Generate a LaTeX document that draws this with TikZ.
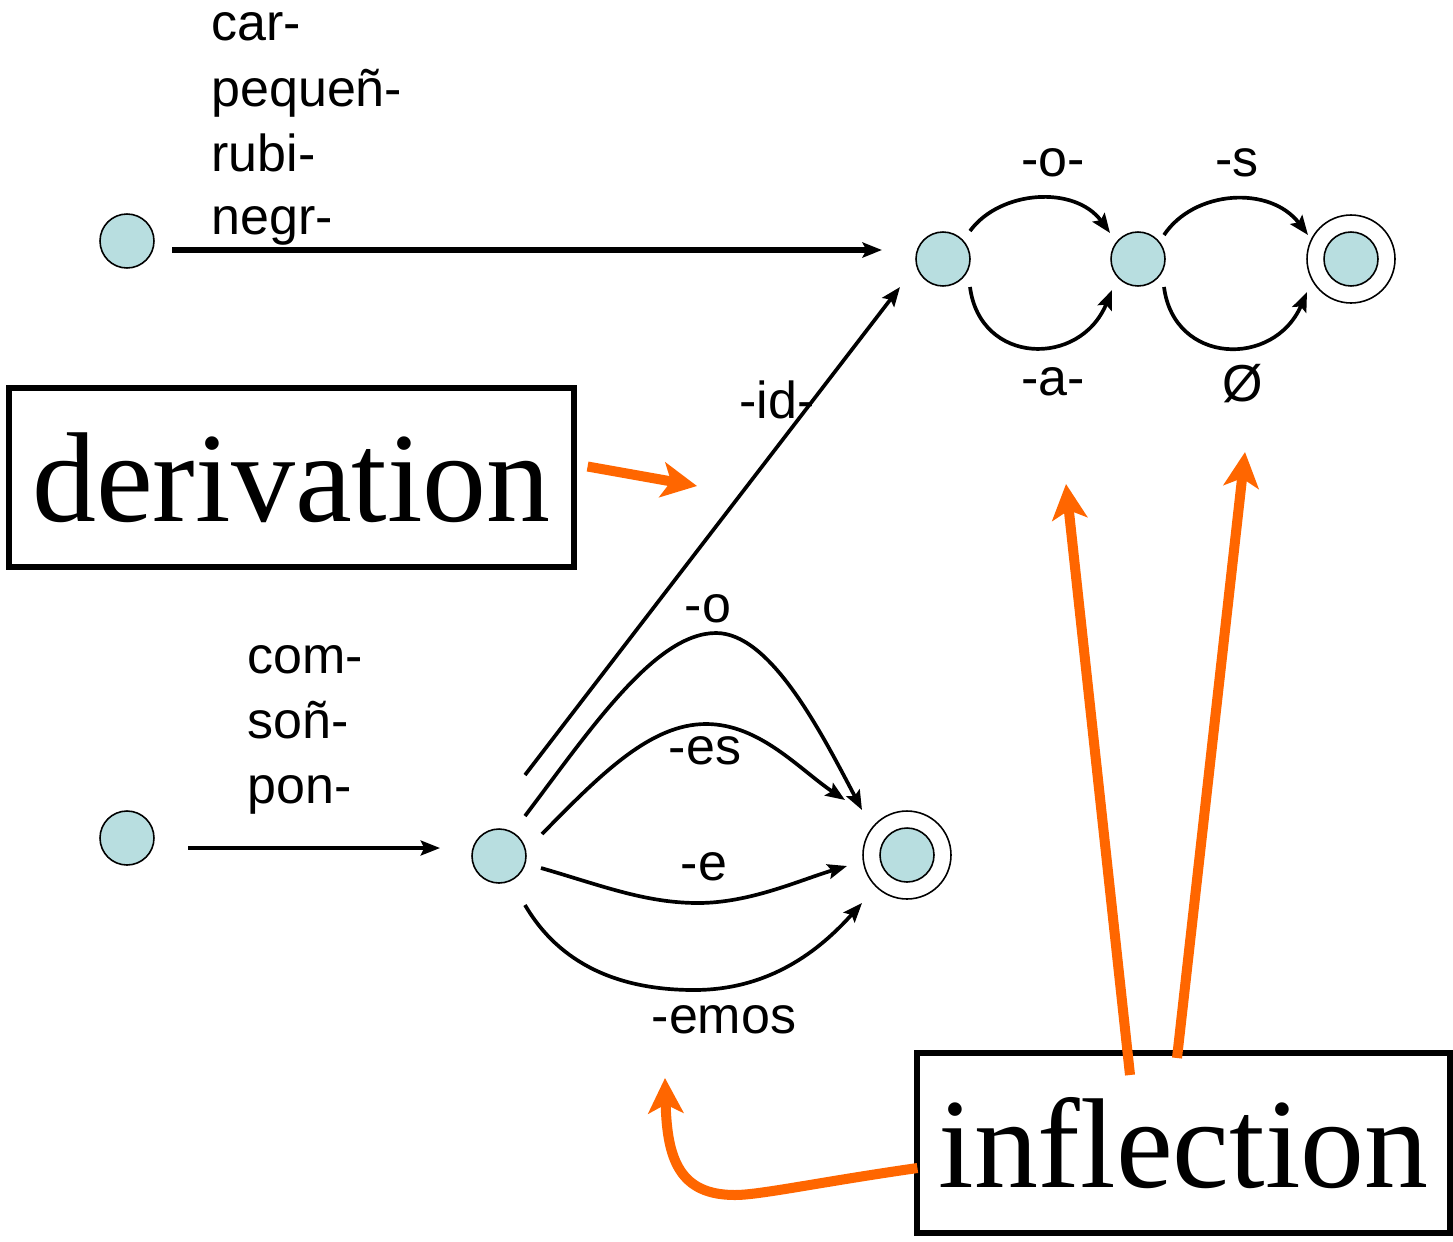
\documentclass[tikz,border=0pt]{standalone}
\usepackage{fontspec}
\setmainfont{Liberation Serif}
\newfontfamily\labelfont{Liberation Sans}
\usetikzlibrary{arrows.meta,calc}
\definecolor{statefill}{RGB}{184,222,224}
\definecolor{hlorange}{RGB}{255,102,0}

\begin{document}
\begin{tikzpicture}[x=0.02cm,y=-0.02cm,
  state/.style={circle,draw=black,line width=0.9pt,fill=statefill,minimum size=1.08cm,inner sep=0},
  ring/.style={circle,draw=black,line width=0.9pt,minimum size=1.76cm,inner sep=0},
  lbl/.style={font=\labelfont\fontsize{29.6}{35}\selectfont,inner sep=0,anchor=base},
  stem/.style={lbl,anchor=base west},
  trans/.style={draw=black,line width=2.1pt,-{Stealth[length=11pt,width=8.5pt,inset=2pt]}},
  note/.style={draw=black,line width=3pt,inner sep=0,font=\fontsize{72.8}{80}\selectfont},
  callout/.style={draw=hlorange,line width=5.7pt,-{Stealth[length=20pt,width=20pt,inset=5pt]}}
]
\useasboundingbox[fill=white] (0,0) rectangle (1453,1241);

% ---- adjective automaton ----
\node[state] (q0) at (127,241) {};
\node[state] (A) at (943,259) {};
\node[state] (B) at (1138,259) {};
\node[ring]  (Cring) at (1351,259) {};
\node[state] (C) at (1351,259) {};

\node[stem] (r1) at (211,40)  {car-};
\node[stem] (r2) at (211,106) {pequeñ-};
\node[stem] (r3) at (211,171) {rubi-};
\node[stem] (r4) at (211,234) {negr-};

\draw[trans,line width=3pt] ($(q0)+(45,9)$) -- ($(A)+(-61,-9)$);

\draw[trans] ($(A)+(27,-28)$) .. controls (1000,190) and (1075,185) .. ($(B)+(-28,-26)$);
\draw[trans] ($(A)+(27,28)$) .. controls (980,365) and (1080,368) .. ($(B)+(-26,31)$);
\draw[trans] ($(B)+(26,-24)$) .. controls (1194,190) and (1270,185) .. ($(Cring)+(-43,-24)$);
\draw[trans] ($(B)+(26,28)$) .. controls (1174,365) and (1274,368) .. ($(Cring)+(-44,33)$);

\node[lbl] (lo)  at (1053,176) {-o-};
\node[lbl] (la)  at (1053,395) {-a-};
\node[lbl] (ls)  at (1237,176) {-s};
\node[lbl] (lz)  at (1243,401) {Ø};

% ---- verb automaton ----
\node[state] (D) at (127,838) {};
\node[state] (E) at (499,856) {};
\node[ring]  (Fring) at (907,855) {};
\node[state] (F) at (907,855) {};

\node[stem] (v1) at (247,673) {com-};
\node[stem] (v2) at (247,738) {soñ-};
\node[stem] (v3) at (247,803) {pon-};

\draw[trans] ($(D)+(61,10)$) -- ($(E)+(-59,-8)$);

\draw[trans] ($(E)+(26,-81)$) -- ($(A)+(-43,28)$);
\node[lbl] (lid) at (777,418) {-id-};

\draw[trans] ($(E)+(26,-40)$) .. controls (590,730) and (655,633) .. (716,633)
  .. controls (770,633) and (820,730) .. ($(Fring)+(-45,-45)$);
\draw[trans] ($(E)+(43,-22)$) .. controls (600,775) and (650,724) .. (706,724)
  .. controls (760,724) and (800,770) .. ($(Fring)+(-62,-55)$);
\draw[trans] ($(E)+(42,12)$) .. controls (600,885) and (645,903) .. (698,903)
  .. controls (750,903) and (800,880) .. ($(Fring)+(-60,11)$);
\draw[trans] ($(E)+(26,49)$) .. controls (560,965) and (620,990) .. (694,990)
  .. controls (770,990) and (820,950) .. ($(Fring)+(-45,48)$);

\node[lbl] (l1) at (708,622)  {-o};
\node[lbl] (l2) at (705,764)  {-es};
\node[lbl] (l3) at (704,880)  {-e};
\node[lbl] (l4) at (724,1033) {-emos};

% ---- annotations ----
\node[note,minimum width=11.3cm,minimum height=3.58cm] (deriv) at (291.5,477.5) {derivation};
\node[note,minimum width=10.66cm,minimum height=3.6cm] (infl) at (1183.5,1143) {inflection};

\coordinate (dtip) at (697,486);
\coordinate (ltip) at (1066,484);
\coordinate (rtip) at (1245,452);
\coordinate (ctip) at (665,1078);

\draw[callout] ($(deriv.east)+(11,-11)$) -- (dtip);
\draw[callout] ($(infl)+(-53.5,-68)$) -- (ltip);
\draw[callout] ($(infl)+(-6.5,-85)$) -- (rtip);
\draw[callout] ($(infl.west)+(3,25)$) .. controls (820,1182) and (760,1195) .. (735,1195)
  .. controls (680,1195) and (667,1160) .. (ctip);
\end{tikzpicture}
\end{document}
